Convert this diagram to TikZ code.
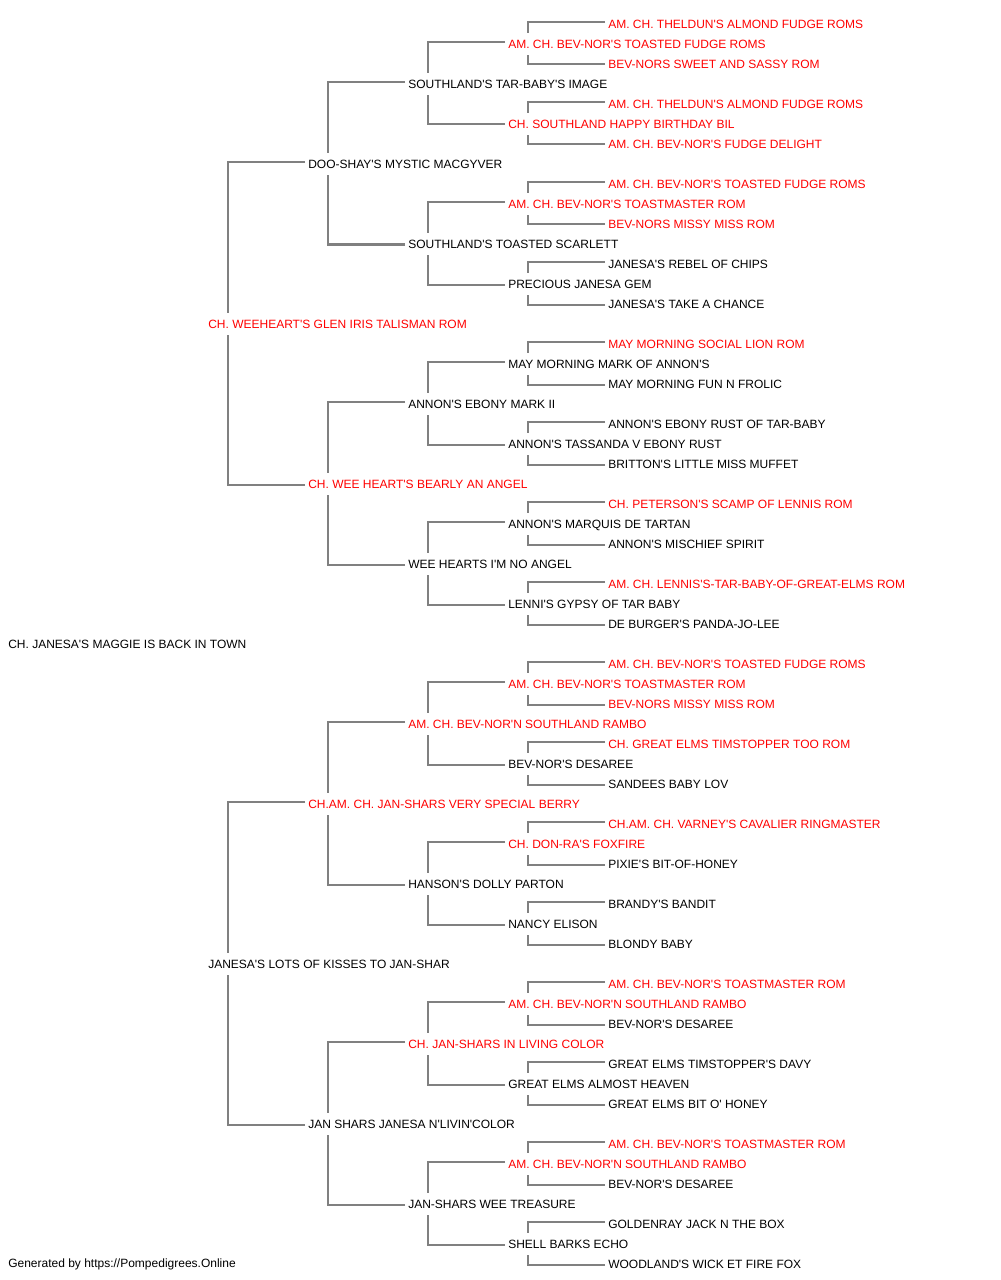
\documentclass[tikz,border=0pt]{standalone}
\usepackage{fontspec}
\setmainfont{Liberation Sans}[Ligatures=TeXOff]
\usetikzlibrary{backgrounds,calc}
\definecolor{lnk}{RGB}{128,128,128}
\definecolor{redn}{RGB}{255,0,0}
\tikzset{
  pname/.style={anchor=west, inner xsep=0pt, inner ysep=5pt, text height=6.45pt, text depth=0pt, fill=white, font=\fontsize{9}{11}\selectfont, text=black},
  champ/.style={pname, text=redn},
  conn/.style={draw=lnk, line width=1.5pt},
}
\newcommand{\pn}[5]{\node[#4] (#1) at (#2,{24+20*#3}) {#5};}
\begin{document}
\begin{tikzpicture}[x=0.75pt,y=-0.75pt]
\useasboundingbox (0,0) rectangle (1000,1280);
\pn{r0}{608}{0}{champ}{AM. CH. THELDUN'S ALMOND FUDGE ROMS}
\pn{r1}{508}{1}{champ}{AM. CH. BEV-NOR'S TOASTED FUDGE ROMS}
\pn{r2}{608}{2}{champ}{BEV-NORS SWEET AND SASSY ROM}
\pn{r3}{408}{3}{pname}{SOUTHLAND'S TAR-BABY'S IMAGE}
\pn{r4}{608}{4}{champ}{AM. CH. THELDUN'S ALMOND FUDGE ROMS}
\pn{r5}{508}{5}{champ}{CH. SOUTHLAND HAPPY BIRTHDAY BIL}
\pn{r6}{608}{6}{champ}{AM. CH. BEV-NOR'S FUDGE DELIGHT}
\pn{r7}{308}{7}{pname}{DOO-SHAY'S MYSTIC MACGYVER}
\pn{r8}{608}{8}{champ}{AM. CH. BEV-NOR'S TOASTED FUDGE ROMS}
\pn{r9}{508}{9}{champ}{AM. CH. BEV-NOR'S TOASTMASTER ROM}
\pn{r10}{608}{10}{champ}{BEV-NORS MISSY MISS ROM}
\pn{r11}{408}{11}{pname}{SOUTHLAND'S TOASTED SCARLETT}
\pn{r12}{608}{12}{pname}{JANESA'S REBEL OF CHIPS}
\pn{r13}{508}{13}{pname}{PRECIOUS JANESA GEM}
\pn{r14}{608}{14}{pname}{JANESA'S TAKE A CHANCE}
\pn{r15}{208}{15}{champ}{CH. WEEHEART'S GLEN IRIS TALISMAN ROM}
\pn{r16}{608}{16}{champ}{MAY MORNING SOCIAL LION ROM}
\pn{r17}{508}{17}{pname}{MAY MORNING MARK OF ANNON'S}
\pn{r18}{608}{18}{pname}{MAY MORNING FUN N FROLIC}
\pn{r19}{408}{19}{pname}{ANNON'S EBONY MARK II}
\pn{r20}{608}{20}{pname}{ANNON'S EBONY RUST OF TAR-BABY}
\pn{r21}{508}{21}{pname}{ANNON'S TASSANDA V EBONY RUST}
\pn{r22}{608}{22}{pname}{BRITTON'S LITTLE MISS MUFFET}
\pn{r23}{308}{23}{champ}{CH. WEE HEART'S BEARLY AN ANGEL}
\pn{r24}{608}{24}{champ}{CH. PETERSON'S SCAMP OF LENNIS ROM}
\pn{r25}{508}{25}{pname}{ANNON'S MARQUIS DE TARTAN}
\pn{r26}{608}{26}{pname}{ANNON'S MISCHIEF SPIRIT}
\pn{r27}{408}{27}{pname}{WEE HEARTS I'M NO ANGEL}
\pn{r28}{608}{28}{champ}{AM. CH. LENNIS'S-TAR-BABY-OF-GREAT-ELMS ROM}
\pn{r29}{508}{29}{pname}{LENNI'S GYPSY OF TAR BABY}
\pn{r30}{608}{30}{pname}{DE BURGER'S PANDA-JO-LEE}
\pn{r31}{8}{31}{pname}{CH. JANESA'S MAGGIE IS BACK IN TOWN}
\pn{r32}{608}{32}{champ}{AM. CH. BEV-NOR'S TOASTED FUDGE ROMS}
\pn{r33}{508}{33}{champ}{AM. CH. BEV-NOR'S TOASTMASTER ROM}
\pn{r34}{608}{34}{champ}{BEV-NORS MISSY MISS ROM}
\pn{r35}{408}{35}{champ}{AM. CH. BEV-NOR'N SOUTHLAND RAMBO}
\pn{r36}{608}{36}{champ}{CH. GREAT ELMS TIMSTOPPER TOO ROM}
\pn{r37}{508}{37}{pname}{BEV-NOR'S DESAREE}
\pn{r38}{608}{38}{pname}{SANDEES BABY LOV}
\pn{r39}{308}{39}{champ}{CH.AM. CH. JAN-SHARS VERY SPECIAL BERRY}
\pn{r40}{608}{40}{champ}{CH.AM. CH. VARNEY'S CAVALIER RINGMASTER}
\pn{r41}{508}{41}{champ}{CH. DON-RA'S FOXFIRE}
\pn{r42}{608}{42}{pname}{PIXIE'S BIT-OF-HONEY}
\pn{r43}{408}{43}{pname}{HANSON'S DOLLY PARTON}
\pn{r44}{608}{44}{pname}{BRANDY'S BANDIT}
\pn{r45}{508}{45}{pname}{NANCY ELISON}
\pn{r46}{608}{46}{pname}{BLONDY BABY}
\pn{r47}{208}{47}{pname}{JANESA'S LOTS OF KISSES TO JAN-SHAR}
\pn{r48}{608}{48}{champ}{AM. CH. BEV-NOR'S TOASTMASTER ROM}
\pn{r49}{508}{49}{champ}{AM. CH. BEV-NOR'N SOUTHLAND RAMBO}
\pn{r50}{608}{50}{pname}{BEV-NOR'S DESAREE}
\pn{r51}{408}{51}{champ}{CH. JAN-SHARS IN LIVING COLOR}
\pn{r52}{608}{52}{pname}{GREAT ELMS TIMSTOPPER'S DAVY}
\pn{r53}{508}{53}{pname}{GREAT ELMS ALMOST HEAVEN}
\pn{r54}{608}{54}{pname}{GREAT ELMS BIT O' HONEY}
\pn{r55}{308}{55}{pname}{JAN SHARS JANESA N'LIVIN'COLOR}
\pn{r56}{608}{56}{champ}{AM. CH. BEV-NOR'S TOASTMASTER ROM}
\pn{r57}{508}{57}{champ}{AM. CH. BEV-NOR'N SOUTHLAND RAMBO}
\pn{r58}{608}{58}{pname}{BEV-NOR'S DESAREE}
\pn{r59}{408}{59}{pname}{JAN-SHARS WEE TREASURE}
\pn{r60}{608}{60}{pname}{GOLDENRAY JACK N THE BOX}
\pn{r61}{508}{61}{pname}{SHELL BARKS ECHO}
\pn{r62}{608}{62}{pname}{WOODLAND'S WICK ET FIRE FOX}
\node[pname, fill=none, text height=6.6pt, text depth=1.9pt, inner ysep=0pt] (foot) at (8,1264) {Generated by https://Pompedigrees.Online};
\begin{scope}[on background layer]
\foreach \p/\d in {15/8,47/8, 7/4,23/4,39/4,55/4, 3/2,11/2,19/2,27/2,35/2,43/2,51/2,59/2, 1/1,5/1,9/1,13/1,17/1,21/1,25/1,29/1,33/1,37/1,41/1,45/1,49/1,53/1,57/1,61/1}{
  \pgfmathtruncatemacro{\up}{\p-\d}
  \pgfmathtruncatemacro{\dn}{\p+\d}
  \draw[conn] ($(r\up.west)+(-3,-2)$) -| ($(r\p.west)+(20,0)$);
  \draw[conn] ($(r\dn.west)+(-3,0.5)$) -| ($(r\p.west)+(20,0)$);
}
\end{scope}
\end{tikzpicture}
\end{document}
